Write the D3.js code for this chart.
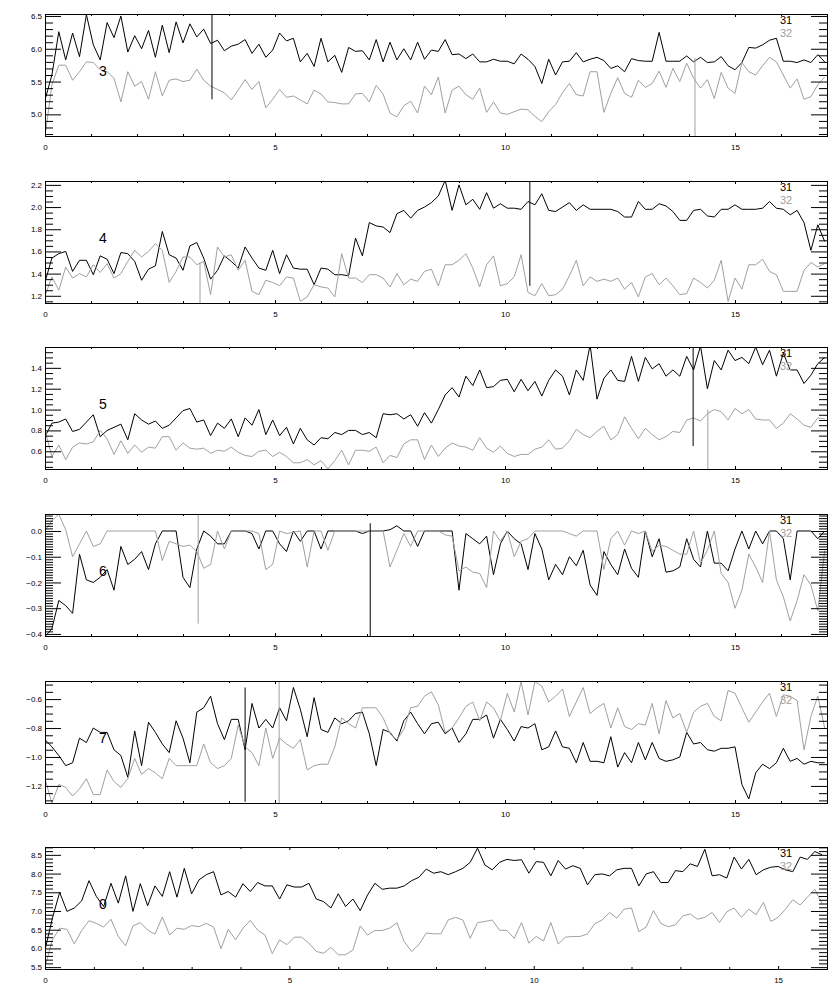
<!DOCTYPE html>
<html>
<head>
<meta charset="utf-8">
<script src="https://cdn.jsdelivr.net/npm/d3@7"></script>
<style>
  body { margin: 0; background: #fff; }
  svg { display: block; }
</style>
</head>
<body>
<div id="chart"></div>
<script>
// sample spacing along x (same for every panel)
const xStep = 0.15;

// panel "3"
const p1Black = [5.22,5.6,6.26,5.83,6.24,5.88,6.52,6.06,5.83,6.4,6.17,6.5,5.95,6.2,6.0,6.28,5.87,6.36,5.94,6.41,6.09,6.38,6.18,6.3,6.08,6.13,5.97,6.04,6.07,6.14,5.93,6.07,5.87,5.98,6.24,6.12,6.16,5.8,5.93,5.73,6.16,5.8,5.9,5.64,6.02,5.96,5.97,5.83,6.14,5.8,6.1,5.83,6.0,5.83,6.1,
  5.84,5.98,5.96,6.14,5.91,5.92,5.85,5.92,5.8,5.8,5.84,5.81,5.81,5.77,5.92,5.84,5.73,5.47,5.84,5.6,5.8,5.81,5.94,5.8,5.84,5.87,5.82,5.7,5.74,5.65,5.85,5.82,5.81,5.81,6.25,5.81,5.81,5.81,5.89,5.8,5.87,5.79,5.8,5.88,5.74,5.68,5.79,6.02,6.01,6.06,6.13,6.16,5.81,5.81,5.79,5.83,5.79,5.91,5.8];
const p1Gray = [4.66,5.45,5.75,5.75,5.52,5.65,5.8,5.79,5.68,5.65,5.55,5.19,5.65,5.43,5.5,5.23,5.65,5.28,5.52,5.54,5.5,5.52,5.69,5.52,5.43,5.38,5.33,5.22,5.37,5.53,5.38,5.5,5.1,5.23,5.38,5.26,5.28,5.22,5.16,5.37,5.31,5.19,5.18,5.16,5.16,5.31,5.32,5.19,5.44,5.31,5.02,4.96,5.13,5.2,5.02,
  5.43,5.3,5.57,5.02,5.37,5.43,5.3,5.23,5.4,5.03,5.19,5.02,5.0,5.04,5.08,5.07,4.97,4.89,5.04,5.15,5.33,5.47,5.3,5.28,5.65,5.65,5.03,5.32,5.56,5.32,5.26,5.52,5.41,5.47,5.66,5.41,5.7,5.5,5.78,5.55,5.4,5.53,5.24,5.64,5.4,5.32,5.79,5.65,5.6,5.74,5.87,5.8,5.6,5.4,5.54,5.23,5.27,5.45,5.57];

// panel "4"
const p2Black = [1.325,1.54,1.58,1.6,1.42,1.52,1.52,1.39,1.56,1.53,1.4,1.59,1.58,1.51,1.34,1.44,1.47,1.78,1.57,1.54,1.43,1.65,1.68,1.54,1.35,1.43,1.56,1.51,1.45,1.64,1.54,1.45,1.43,1.61,1.4,1.57,1.45,1.44,1.44,1.3,1.45,1.44,1.39,1.39,1.38,1.72,1.56,1.86,1.83,1.82,1.77,1.94,1.97,1.9,1.97,
  2.0,2.04,2.1,2.24,1.97,2.2,2.02,2.07,1.98,2.13,1.99,2.03,1.99,1.99,1.98,2.05,2.02,2.12,1.97,1.96,2.0,2.04,1.97,2.02,1.98,1.98,1.98,1.98,1.96,1.91,1.91,2.05,1.98,1.98,2.03,2.01,1.96,1.88,1.88,1.97,1.98,1.92,1.91,1.98,1.98,2.02,1.98,1.98,1.98,1.99,2.05,1.99,1.98,1.93,1.97,1.86,1.61,1.84,1.69];
const p2Gray = [1.2,1.37,1.25,1.46,1.36,1.4,1.37,1.48,1.41,1.49,1.36,1.4,1.51,1.61,1.55,1.6,1.67,1.61,1.32,1.42,1.55,1.55,1.48,1.51,1.21,1.64,1.55,1.57,1.43,1.52,1.24,1.21,1.34,1.32,1.29,1.37,1.36,1.15,1.19,1.3,1.28,1.27,1.19,1.58,1.36,1.36,1.32,1.39,1.39,1.36,1.28,1.4,1.3,1.35,1.33,
  1.42,1.44,1.29,1.48,1.48,1.52,1.58,1.45,1.28,1.48,1.56,1.29,1.31,1.37,1.57,1.23,1.2,1.31,1.2,1.21,1.26,1.38,1.52,1.29,1.37,1.33,1.35,1.33,1.36,1.26,1.32,1.19,1.37,1.4,1.3,1.36,1.29,1.21,1.22,1.36,1.32,1.27,1.34,1.52,1.15,1.36,1.26,1.48,1.48,1.53,1.42,1.39,1.24,1.24,1.24,1.43,1.5,1.46,1.49];

// panel "5"
const p3Black = [0.74,0.87,0.88,0.91,0.79,0.81,0.88,0.95,0.74,0.8,0.83,0.86,0.71,0.96,0.9,0.86,0.89,0.82,0.85,0.92,0.99,1.01,0.88,0.9,0.75,0.87,0.82,0.91,0.74,0.92,0.85,1.0,0.76,0.9,0.75,0.83,0.67,0.82,0.71,0.66,0.73,0.72,0.78,0.76,0.8,0.8,0.76,0.78,0.73,0.96,0.95,0.96,0.91,0.95,0.84,
  0.97,0.87,1.0,1.14,1.21,1.12,1.32,1.23,1.38,1.21,1.22,1.28,1.29,1.17,1.29,1.18,1.27,1.13,1.28,1.38,1.32,1.14,1.38,1.28,1.62,1.1,1.3,1.38,1.28,1.27,1.51,1.27,1.5,1.39,1.44,1.32,1.38,1.32,1.51,1.38,1.61,1.2,1.47,1.38,1.57,1.47,1.5,1.44,1.6,1.43,1.57,1.32,1.54,1.38,1.38,1.25,1.33,1.44,1.5];
const p3Gray = [0.8,0.55,0.66,0.52,0.64,0.68,0.67,0.69,0.8,0.72,0.57,0.7,0.58,0.66,0.59,0.64,0.63,0.74,0.74,0.61,0.68,0.63,0.62,0.63,0.58,0.61,0.6,0.64,0.59,0.56,0.55,0.6,0.61,0.55,0.59,0.55,0.49,0.49,0.52,0.47,0.51,0.43,0.51,0.61,0.47,0.61,0.61,0.6,0.64,0.49,0.56,0.54,0.67,0.71,0.71,
  0.52,0.66,0.55,0.63,0.68,0.65,0.64,0.61,0.73,0.63,0.59,0.65,0.58,0.55,0.57,0.57,0.62,0.64,0.71,0.62,0.63,0.7,0.81,0.76,0.73,0.79,0.84,0.71,0.76,0.93,0.82,0.72,0.82,0.76,0.71,0.74,0.79,0.78,0.9,0.92,0.89,0.96,1.0,0.98,0.9,1.01,0.96,1.0,0.91,0.9,0.9,0.82,0.87,0.96,0.91,0.85,0.83,0.92,0.91];

// panel "6"
const p4Black = [-0.41,-0.38,-0.27,-0.29,-0.32,-0.09,-0.19,-0.2,-0.18,-0.15,-0.23,-0.06,-0.13,-0.11,-0.08,-0.15,-0.05,0,0,0,-0.18,-0.22,-0.07,0,-0.02,-0.05,-0.05,0,0,0,-0.01,-0.07,0,0,-0.05,-0.08,0,-0.04,0,0,-0.07,0,0,0,0,0,-0.01,0,0,0,0.005,0.02,0,0,-0.06,
  0,0,0,0,0,-0.23,-0.01,-0.03,-0.05,-0.02,-0.17,-0.05,0,-0.03,-0.05,-0.15,-0.01,-0.07,-0.19,-0.13,-0.17,-0.1,-0.135,-0.075,-0.21,-0.25,-0.08,-0.13,-0.17,-0.07,-0.145,-0.18,0,-0.1,-0.03,-0.16,-0.155,-0.14,-0.03,-0.11,-0.14,0,-0.125,-0.125,-0.155,-0.07,0,-0.07,0,-0.05,0,0,-0.03,-0.19,0,0,0,-0.03,0];
const p4Gray = [0,0.04,0.065,0.005,-0.1,-0.05,0,-0.06,-0.05,0,0,0,0,0,0,0,0,-0.115,-0.04,-0.05,-0.06,-0.055,-0.08,-0.145,-0.13,0,-0.07,0,0,0,0,-0.01,-0.15,-0.13,0,-0.01,-0.005,0,-0.14,0,0,-0.075,0,0,0,0,0,0,0,0,-0.14,-0.075,-0.01,-0.06,0,
  0,0,0,-0.015,-0.02,-0.155,-0.14,-0.16,-0.165,-0.22,0,-0.04,0,-0.1,-0.04,-0.03,0,0,0,0,0,-0.01,-0.02,0,0,0,-0.15,-0.03,0,-0.055,0,-0.01,0,-0.08,-0.055,-0.06,-0.075,-0.09,-0.09,0,-0.125,-0.075,0,-0.165,-0.2,-0.3,-0.23,-0.09,-0.14,-0.2,0,-0.19,-0.255,-0.35,-0.27,-0.17,-0.21,-0.31,-0.075];

// panel "7"
const p5Black = [-0.88,-0.93,-0.99,-1.06,-1.04,-0.87,-0.9,-0.8,-0.83,-0.83,-0.95,-0.99,-1.14,-0.82,-1.06,-0.76,-0.83,-0.91,-0.97,-0.75,-0.87,-1.04,-0.69,-0.66,-0.58,-0.77,-0.88,-0.74,-0.74,-0.95,-0.63,-0.8,-0.74,-0.8,-0.66,-0.75,-0.52,-0.67,-0.86,-0.59,-0.81,-0.83,-0.73,-0.77,-0.75,-0.7,-0.69,-0.84,-1.06,-0.81,-0.83,-0.89,-0.75,-0.69,-0.77,
  -0.84,-0.77,-0.76,-0.84,-0.8,-0.9,-0.84,-0.74,-0.74,-0.71,-0.87,-0.74,-0.81,-0.89,-0.79,-0.8,-0.77,-0.95,-0.93,-0.82,-0.93,-0.94,-1.04,-0.9,-1.03,-1.03,-1.04,-0.86,-1.07,-0.97,-1.04,-0.9,-1.02,-0.9,-1.01,-1.03,-1.02,-1.0,-0.83,-0.91,-0.9,-0.95,-0.96,-0.94,-0.94,-0.93,-1.19,-1.29,-1.11,-1.05,-1.08,-1.04,-0.94,-1.03,-1.01,-1.05,-1.03,-1.04,-1.04];
const p5Gray = [-1.15,-1.32,-1.19,-1.21,-1.27,-1.22,-1.15,-1.26,-1.26,-1.09,-1.17,-1.21,-1.15,-1.01,-1.12,-1.08,-1.11,-1.15,-1.01,-1.06,-1.06,-1.06,-1.06,-0.91,-1.04,-1.08,-1.06,-1.01,-0.78,-0.93,-0.97,-1.06,-0.8,-1.01,-0.87,-0.91,-0.94,-0.88,-1.09,-1.06,-1.05,-1.05,-0.93,-0.73,-0.77,-0.8,-0.66,-0.66,-0.66,-0.73,-0.84,-0.88,-0.81,-0.66,-0.65,
  -0.58,-0.55,-0.64,-0.83,-0.8,-0.73,-0.65,-0.62,-0.75,-0.62,-0.66,-0.75,-0.56,-0.69,-0.48,-0.71,-0.48,-0.51,-0.62,-0.58,-0.53,-0.72,-0.62,-0.52,-0.7,-0.66,-0.63,-0.8,-0.66,-0.79,-0.81,-0.77,-0.78,-0.63,-0.84,-0.61,-0.73,-0.7,-0.83,-0.69,-0.65,-0.63,-0.72,-0.75,-0.54,-0.56,-0.66,-0.76,-0.69,-0.62,-0.56,-0.72,-0.57,-0.58,-0.61,-0.95,-0.72,-0.58,-0.8];

// panel "0"
const p6Black = [5.96,6.8,7.5,6.99,7.08,7.27,7.81,7.39,7.12,7.74,7.21,7.94,6.99,7.73,7.14,7.67,7.39,8.05,7.37,8.14,7.46,7.83,7.97,8.05,7.43,7.52,7.37,7.73,7.52,7.76,7.67,7.67,7.32,7.7,7.64,7.64,7.74,7.32,7.25,7.08,7.46,7.12,7.32,7.01,7.43,7.74,7.58,7.61,7.61,7.67,7.81,7.9,
  8.12,8.01,8.05,7.97,8.05,8.14,8.3,8.68,8.23,8.1,8.3,8.38,8.35,8.37,8.01,8.32,8.3,7.94,8.35,8.12,8.21,8.14,7.7,7.97,7.99,7.94,8.1,8.14,8.14,7.67,7.99,8.05,7.76,7.76,8.08,8.05,8.26,8.19,8.65,7.94,7.97,7.88,8.44,8.12,8.38,7.97,8.1,8.17,8.19,8.1,8.05,8.44,8.38,8.59,8.5];
const p6Gray = [5.5,6.23,6.54,6.51,6.12,6.48,6.74,6.67,6.57,6.78,6.32,6.07,6.6,6.69,6.49,6.38,6.84,6.36,6.54,6.51,6.61,6.58,6.67,6.57,5.99,6.51,6.23,6.54,6.75,6.49,6.36,5.86,6.23,6.1,6.3,6.3,6.14,5.92,5.87,6.03,5.83,5.83,5.96,6.6,6.36,6.48,6.48,6.54,6.69,6.18,5.92,6.1,
  6.41,6.39,6.39,6.76,6.83,6.76,6.27,6.69,6.72,6.76,6.49,6.48,6.27,6.69,6.14,6.32,6.2,6.69,6.12,6.3,6.32,6.32,6.39,6.66,6.76,6.96,6.81,7.05,7.08,6.45,6.57,7.01,6.67,6.58,6.63,6.87,6.92,6.78,6.83,6.96,6.69,6.98,7.08,6.83,7.05,6.9,7.23,6.72,6.83,7.05,7.3,7.16,7.37,7.58,7.2];

const blackSeries = [p1Black, p2Black, p3Black, p4Black, p5Black, p6Black];
const graySeries = [p1Gray, p2Gray, p3Gray, p4Gray, p5Gray, p6Gray];

const panelNames = ['3', '4', '5', '6', '7', '0'];
const legendNames = ['31', '32'];

const xMax = [17, 17, 17, 17, 17, 16];
const xMajorTicks = [0, 5, 10, 15];

const yDomains = [[4.67, 6.53], [1.135, 2.235], [0.43, 1.6], [-0.408, 0.066], [-1.318, -0.475], [5.45, 8.71]];
const yMajorTicks = [
  [5.0, 5.5, 6.0, 6.5],
  [1.2, 1.4, 1.6, 1.8, 2.0, 2.2],
  [0.6, 0.8, 1.0, 1.2, 1.4],
  [-0.4, -0.3, -0.2, -0.1, 0.0],
  [-1.2, -1.0, -0.8, -0.6],
  [5.5, 6.0, 6.5, 7.0, 7.5, 8.0, 8.5]
];
const yMinorStep = [0.1, 0.05, 0.05, 0.01, 0.05, 0.1];

// vertical marker segments: [x, yFrom, yTo]
const blackMarks = [[3.63, 6.53, 5.23], [10.54, 2.235, 1.29], [14.09, 1.6, 0.65], [7.07, 0.03, -0.408], [4.35, -0.52, -1.31], null];
const grayMarks = [[14.13, 5.86, 4.67], [3.37, 1.5, 1.135], [14.41, 1.0, 0.43], [3.33, 0.066, -0.36], [5.09, -0.475, -1.32], null];

const width = 840, height = 1000;
const left = 45, right = 827;
const rowH = 1000 / 6;
const topPad = 14, plotH = 122;
const grayColor = '#a0a0a0';

const svg = d3.select('#chart').append('svg')
  .attr('width', width)
  .attr('height', height)
  .style('font-family', '"DejaVu Sans", sans-serif');

svg.append('rect').attr('width', width).attr('height', height).attr('fill', '#fff');

function minorTicks(domain, step, majors) {
  const lo = Math.ceil(domain[0] / step - 1e-6), hi = Math.floor(domain[1] / step + 1e-6);
  return d3.range(lo, hi + 1).map(k => +(k * step).toFixed(4))
    .filter(v => !majors.some(m => Math.abs(m - v) < step / 2));
}

blackSeries.forEach((blk, p) => {
  const top = Math.round(p * rowH + topPad);
  const g = svg.append('g').attr('transform', `translate(0,${top})`);

  const x = d3.scaleLinear().domain([0, xMax[p]]).range([left, right]);
  const y = d3.scaleLinear().domain(yDomains[p]).range([plotH, 0]);

  const clipId = 'clip' + p;
  g.append('clipPath').attr('id', clipId)
    .append('rect').attr('x', left).attr('y', 0).attr('width', right - left).attr('height', plotH);

  const plot = g.append('g').attr('clip-path', `url(#${clipId})`);
  const line = d3.line().x((d, i) => x(i * xStep)).y(d => y(d));

  plot.append('path').datum(blk)
    .attr('d', line).attr('fill', 'none').attr('stroke', '#000').attr('stroke-width', 1);
  plot.append('path').datum(graySeries[p])
    .attr('d', line).attr('fill', 'none').attr('stroke', grayColor).attr('stroke-width', 1);

  [[blackMarks[p], '#000'], [grayMarks[p], grayColor]].forEach(([m, c]) => {
    if (!m) return;
    plot.append('line')
      .attr('x1', x(m[0])).attr('x2', x(m[0]))
      .attr('y1', y(m[1])).attr('y2', y(m[2]))
      .attr('stroke', c).attr('stroke-width', 1);
  });

  // axes, ticks pointing inward
  const yMin = minorTicks(yDomains[p], yMinorStep[p], yMajorTicks[p]);
  const xMin = minorTicks([0, xMax[p]], 1, xMajorTicks);

  const styleAxis = sel => {
    sel.select('.domain').remove();
    sel.selectAll('line').attr('stroke', '#000');
    sel.selectAll('text').attr('fill', '#000').style('font-size', '8px');
  };

  g.append('g').attr('transform', `translate(${left},0)`)
    .call(d3.axisLeft(y).tickValues(yMajorTicks[p]).tickSize(-16).tickPadding(3).tickFormat(d3.format('.1f')))
    .call(styleAxis);
  g.append('g').attr('transform', `translate(${left},0)`)
    .call(d3.axisLeft(y).tickValues(yMin).tickSize(-8).tickFormat(''))
    .call(styleAxis);
  g.append('g').attr('transform', `translate(${right},0)`)
    .call(d3.axisRight(y).tickValues(yMajorTicks[p]).tickSize(-16).tickFormat(''))
    .call(styleAxis);
  g.append('g').attr('transform', `translate(${right},0)`)
    .call(d3.axisRight(y).tickValues(yMin).tickSize(-8).tickFormat(''))
    .call(styleAxis);

  g.append('g').attr('transform', `translate(0,${plotH})`)
    .call(d3.axisBottom(x).tickValues(xMajorTicks).tickSize(-3).tickPadding(8).tickFormat(d3.format('d')))
    .call(styleAxis);
  g.append('g').attr('transform', `translate(0,${plotH})`)
    .call(d3.axisBottom(x).tickValues(xMin).tickSize(-2).tickFormat(''))
    .call(styleAxis);
  g.append('g')
    .call(d3.axisTop(x).tickValues(xMajorTicks).tickSize(-3).tickFormat(''))
    .call(styleAxis);
  g.append('g')
    .call(d3.axisTop(x).tickValues(xMin).tickSize(-2).tickFormat(''))
    .call(styleAxis);

  // frame
  g.append('rect')
    .attr('x', left + 0.5).attr('y', 0.5)
    .attr('width', right - left).attr('height', plotH)
    .attr('fill', 'none').attr('stroke', '#000').attr('stroke-width', 1);

  // panel number
  g.append('text')
    .attr('x', left + 54).attr('y', 62)
    .attr('fill', '#000')
    .style('font-size', '14px')
    .style('font-family', '"Liberation Sans", sans-serif')
    .text(panelNames[p]);

  // legend
  legendNames.forEach((name, k) => {
    g.append('text')
      .attr('x', 780).attr('y', 10 + k * 13)
      .attr('fill', k === 0 ? '#000' : grayColor)
      .style('font-size', '11px')
      .style('font-family', '"Liberation Sans", sans-serif')
      .text(name);
  });
});
</script>
</body>
</html>
